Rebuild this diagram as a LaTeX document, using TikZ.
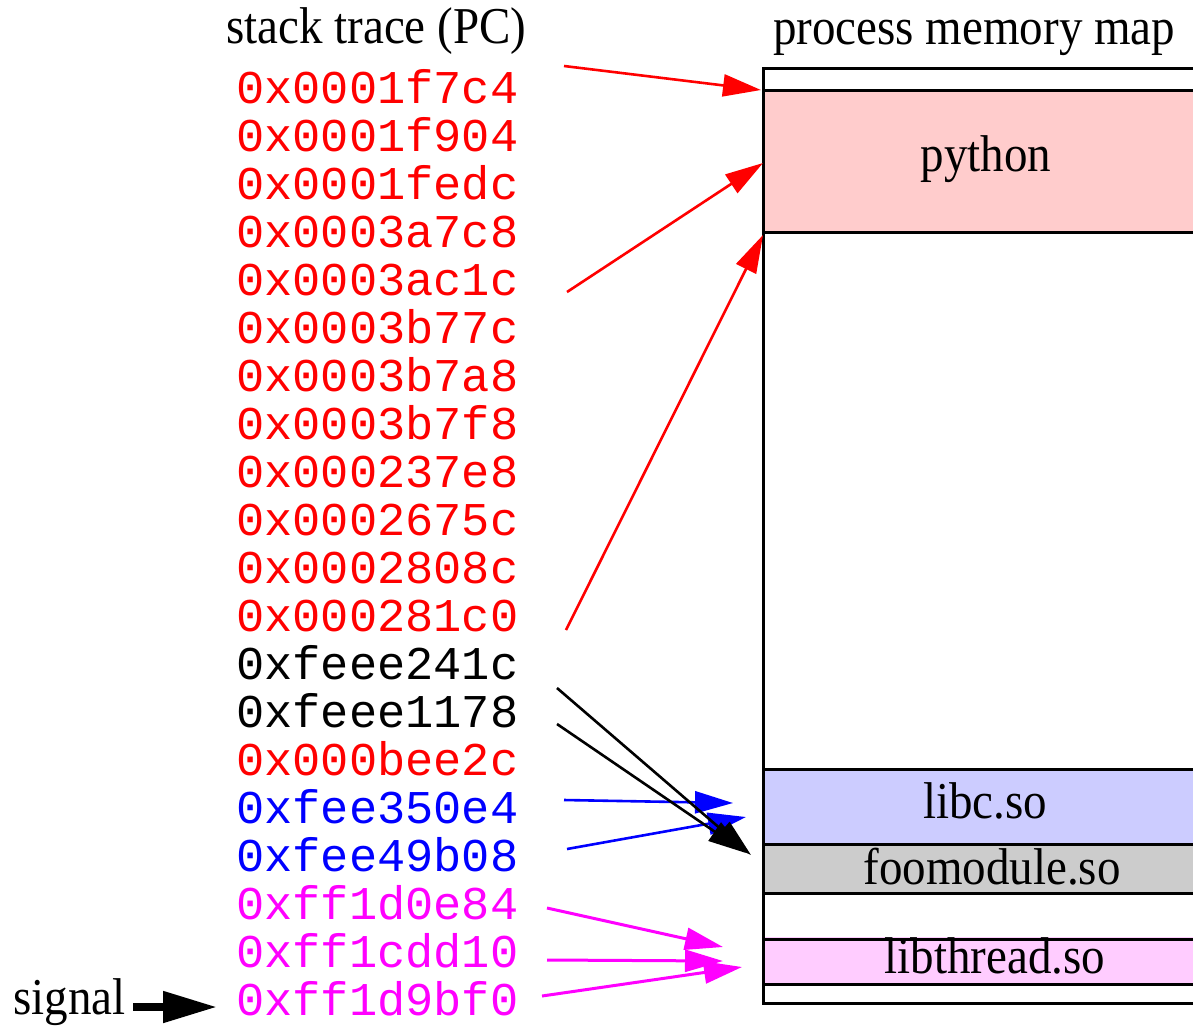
\documentclass[tikz,border=0pt]{standalone}
\usepackage{graphicx}
\usepackage{fontspec}
\setmainfont{Liberation Serif}
\setmonofont{Liberation Mono}
\usetikzlibrary{arrows.meta}
\definecolor{pyfill}{RGB}{255,204,204}
\definecolor{libcfill}{RGB}{204,204,255}
\definecolor{foofill}{RGB}{204,204,204}
\definecolor{thrfill}{RGB}{255,204,255}
\definecolor{hexred}{RGB}{255,0,0}
\definecolor{hexblue}{RGB}{0,0,255}
\definecolor{hexmag}{RGB}{255,0,255}
\newcommand{\talltext}[1]{\scalebox{1}[1.1]{#1}}
\begin{document}
\begin{tikzpicture}[x=1pt,y=-1pt,
  big/.style={font=\fontsize{47}{56}\selectfont, inner sep=0pt},
  hex/.style={font=\ttfamily\fontsize{47}{56}\selectfont, inner sep=0pt, anchor=base west},
  ptr/.style={line width=2.6pt, -{Triangle[length=38pt,width=22pt]}},
  region/.style={draw, line width=3pt}]
\useasboundingbox (0,0) rectangle (1193,1026);
\clip (0,0) rectangle (1193,1026);

% titles
\node[big, anchor=base west] (t1) at (226,43) {\talltext{stack trace (PC)}};
\node[big, anchor=base west] (t2) at (773,44) {\talltext{process memory map}};

% memory map
\fill[pyfill] (763,90) rectangle (1230,232);
\fill[libcfill] (763,769) rectangle (1230,844);
\fill[foofill] (763,844) rectangle (1230,893);
\fill[thrfill] (763,937) rectangle (1230,984);
\draw[line width=3pt] (763,68) rectangle (1230,1003);
\foreach \yy in {90,232,769,844,893,939,984}
  \draw[line width=3pt] (763,\yy) -- (1230,\yy);

\node[big, anchor=base] (python) at (986,171) {\talltext{python}};
\node[big, anchor=base] (libc) at (985,818) {\talltext{libc.so}};
\node[big, anchor=base] (foo) at (992,884) {\talltext{foomodule.so}};
\node[big, anchor=base] (thr) at (995,973) {\talltext{libthread.so}};

% stack trace
\foreach \t/\c [count=\i from 0] in {
  0x0001f7c4/hexred, 0x0001f904/hexred, 0x0001fedc/hexred, 0x0003a7c8/hexred,
  0x0003ac1c/hexred, 0x0003b77c/hexred, 0x0003b7a8/hexred, 0x0003b7f8/hexred,
  0x000237e8/hexred, 0x0002675c/hexred, 0x0002808c/hexred, 0x000281c0/hexred,
  0xfeee241c/black, 0xfeee1178/black, 0x000bee2c/hexred, 0xfee350e4/hexblue,
  0xfee49b08/hexblue, 0xff1d0e84/hexmag, 0xff1cdd10/hexmag, 0xff1d9bf0/hexmag}
  \node[hex, text=\c] (h\i) at (236,{103+48*\i}) {\t};

\node[big, anchor=base west] (sig) at (13,1014) {\talltext{signal}};

% arrow end points
\coordinate (s0) at (564,66);   \coordinate (e0) at (761,90);
\coordinate (s4) at (567,292);  \coordinate (e4) at (763,163);
\coordinate (s11) at (566,630); \coordinate (e11) at (763,235);
\coordinate (s12) at (557,688); \coordinate (e12) at (751,855);
\coordinate (s13) at (557,724); \coordinate (e13) at (746,853);
\coordinate (s15) at (564,800); \coordinate (e15) at (733,803);
\coordinate (s16) at (567,849); \coordinate (e16) at (746,817);
\coordinate (s17) at (547,908); \coordinate (e17) at (723,947);
\coordinate (s18) at (547,960); \coordinate (e18) at (723,961);
\coordinate (s19) at (542,996); \coordinate (e19) at (742,967);
\coordinate (ss) at (133,1007); \coordinate (se) at (217,1007);

\draw[ptr, hexred] (s0) -- (e0);
\draw[ptr, hexred] (s4) -- (e4);
\draw[ptr, hexred] (s11) -- (e11);
\draw[ptr, hexblue] (s15) -- (e15);
\draw[ptr, hexblue] (s16) -- (e16);
\draw[ptr, black] (s12) -- (e12);
\draw[ptr, black] (s13) -- (e13);
\draw[ptr, hexmag, line width=3pt] (s17) -- (e17);
\draw[ptr, hexmag, line width=3pt] (s18) -- (e18);
\draw[ptr, hexmag, line width=3pt] (s19) -- (e19);
\draw[line width=8pt, -{Triangle[length=54pt,width=30pt]}] (ss) -- (se);
\end{tikzpicture}
\end{document}
